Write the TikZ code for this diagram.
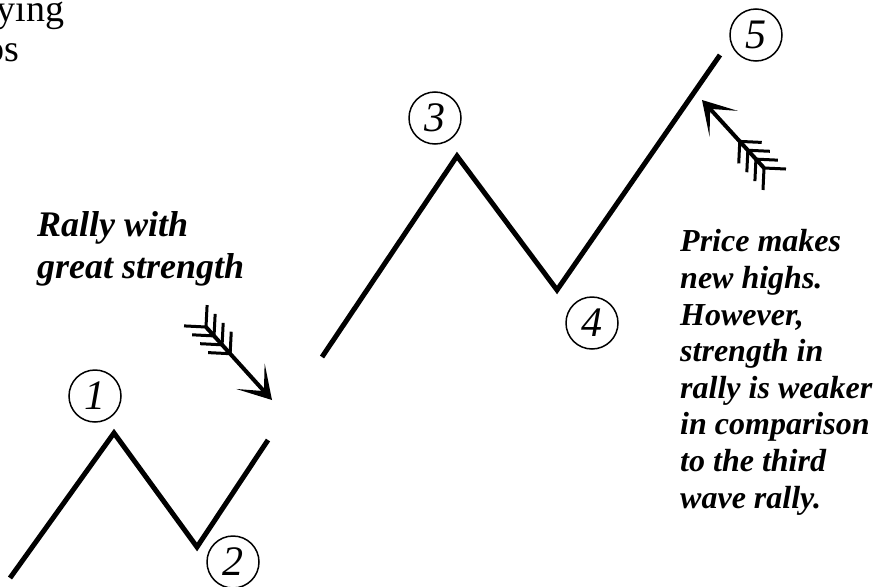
\documentclass[tikz,border=0pt]{standalone}
\usepackage{fontspec}
\setmainfont{Liberation Serif}
\usetikzlibrary{positioning,calc,arrows.meta}

\begin{document}
\begin{tikzpicture}[x=1pt,y=-1pt,
  wave/.style={line width=5pt},
  shaft/.style={line width=4pt,-{Stealth[length=32pt,width=38pt,inset=20pt]}},
  feather/.style={line width=3pt}]
\tikzstyle{wavenum}=[circle,draw,line width=1.5pt,minimum size=52pt,inner sep=0pt,font=\fontsize{42}{42}\selectfont\itshape]
\tikzstyle{note}=[align=left,inner sep=0pt,font=\fontsize{32}{36.6}\selectfont\bfseries\itshape]
\useasboundingbox (0,0) rectangle (890,586);

% cut-off text at the top left
\node[anchor=base east,font=\fontsize{38}{40}\selectfont] (cuttop) at (68,22) {ying};
\node[anchor=base east,font=\fontsize{38}{40}\selectfont] (cutbot) at (23,62) {os};

% the two wave legs
\coordinate (p0) at (10,578);
\coordinate (p1) at (114,433);
\coordinate (p2) at (197,547);
\coordinate (p2e) at (268,440);
\coordinate (p2s) at (322,357);
\coordinate (p3) at (457,156);
\coordinate (p4) at (557,290);
\coordinate (p5) at (720,55);
\draw[wave] (p0) -- (p1) -- (p2) -- (p2e);
\draw[wave] (p2s) -- (p3) -- (p4) -- (p5);

% wave numbers
\node[wavenum] (n1) at (95,396) {1};
\node[wavenum] (n2) at (233,562) {2};
\node[wavenum] (n3) at (435,118) {3};
\node[wavenum] (n4) at (592,323) {4};
\node[wavenum] (n5) at (756,35) {5};

% feathered arrows
\coordinate (a1t) at (206,327);
\coordinate (a1h) at (272,400);
\coordinate (a2t) at (764,168);
\coordinate (a2h) at (702,100);
\foreach \t/\h in {a1t/a1h,a2t/a2h}{
  \draw[shaft] (\t) -- (\h);
  \foreach \d in {0,12,24,36}{
    \path ($(\t)!\d pt!(\h)$) coordinate (v);
    \draw[feather] ($(v)!22pt!135:(\h)$) -- (v) -- ($(v)!22pt!-135:(\h)$);
  }
}

% notes
\node[note,font=\fontsize{36}{42}\selectfont\bfseries\itshape,anchor=base west] (rally) at (37,278) {Rally with\\great strength};
\node[note,anchor=base west] (weak) at (680,508) {Price makes\\new highs.\\However,\\strength in\\rally is weaker\\in comparison\\to the third\\wave rally.};
\end{tikzpicture}
\end{document}
